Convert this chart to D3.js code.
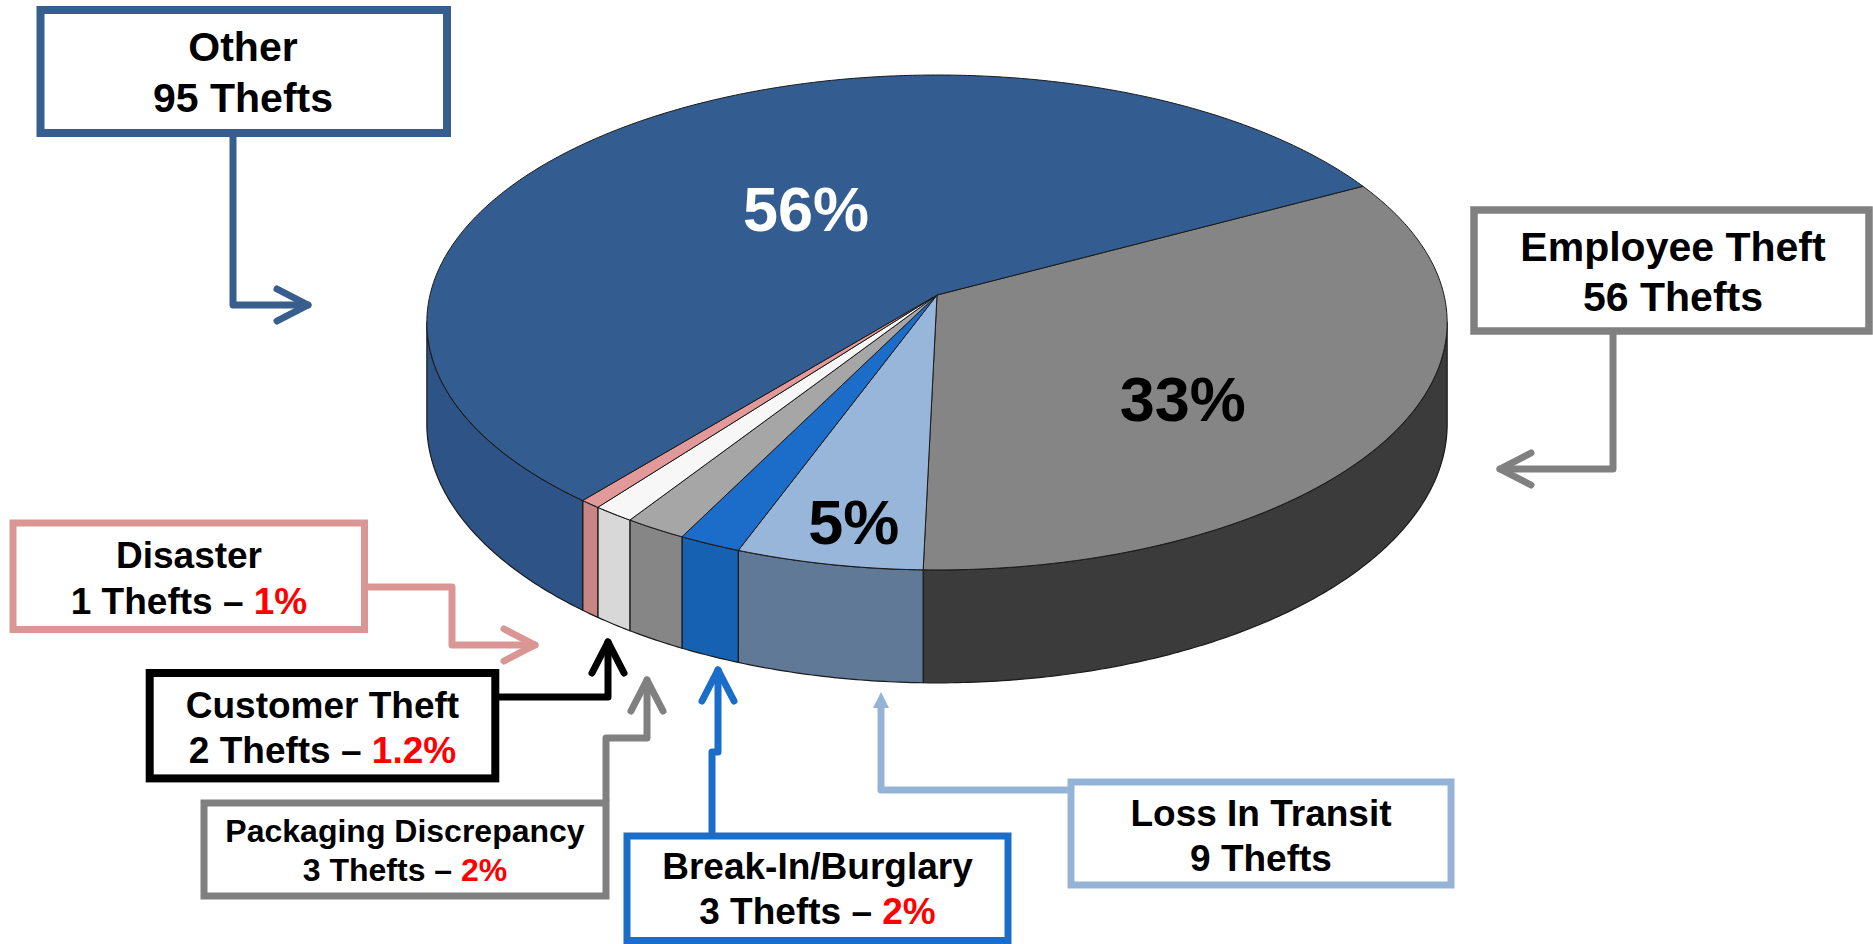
<!DOCTYPE html>
<html>
<head>
<meta charset="utf-8">
<script src="https://cdn.jsdelivr.net/npm/d3@7"></script>
<style>
  html, body { margin: 0; padding: 0; background: #fff; }
  svg { display: block; }
  text { font-family: "Liberation Sans", Arial, sans-serif; font-weight: bold; }
</style>
</head>
<body>
<div id="chart"></div>
<script>
// thefts by category, in the order the slices run round the pie (clockwise)
const categories = ["Employee Theft", "Loss In Transit", "Break-In/Burglary", "Packaging Discrepancy", "Customer Theft", "Disaster", "Other"];
const thefts = [56, 9, 3, 3, 2, 1, 95];
const slicePercents = ["33%", "5%", null, null, null, null, "56%"];
const boxPercents = [null, null, "2%", "2%", "1.2%", "1%", null];
const topColors = ["#858585", "#98b5da", "#1c6dca", "#a6a6a6", "#f7f7f7", "#e19a99", "#335c90"];
const sideColors = ["#3b3b3b", "#5f7997", "#1761b3", "#868686", "#d8d8d8", "#c78584", "#2e5487"];
const lineColors = ["#808080", "#95b3d7", "#1a6dc8", "#808080", "#000000", "#d99694", "#375e8f"];
const labelInk = ["#000", "#000", "#000", "#000", "#000", "#000", "#fff"];

const width = 1873, height = 944;

// 3d pie: tilted disc with a little perspective
const cx = 937, cy = 295, rx = 507, ry = 244.4, persp = 0.111, depth = 100.4;
const startDeg = 62.1;

const x = d3.scaleLinear().domain([-1, 1]).range([cx - rx, cx + rx]);
const y = d3.scaleLinear().domain([-1, 1]).range([cy - ry, cy + ry]);

function proj(a, f, h) {
    const u = f * Math.sin(a), v = -f * Math.cos(a);
    const d = 1 - persp * v;
    return [x(u / d), y(v / d) + h * depth / d];
}

function arcPts(a0, a1, h) {
    const n = Math.max(2, Math.ceil((a1 - a0) / 0.01));
    return d3.range(n + 1).map(i => proj(a0 + (a1 - a0) * i / n, 1, h));
}

const line = d3.line();

const pie = d3.pie()
    .sort(null)
    .value(d => d)
    .startAngle(startDeg * Math.PI / 180)
    .endAngle(startDeg * Math.PI / 180 + 2 * Math.PI);
const arcs = pie(thefts);

const svg = d3.select("#chart").append("svg")
    .attr("width", width)
    .attr("height", height);

// side walls, only the part that faces us
const vis0 = Math.PI / 2 + Math.asin(persp), vis1 = 3 * Math.PI / 2 - Math.asin(persp);
const wallG = svg.append("g");
arcs.forEach((a, i) => {
    [0, -2 * Math.PI].forEach(shift => {
        const a0 = Math.max(a.startAngle + shift, vis0);
        const a1 = Math.min(a.endAngle + shift, vis1);
        if (a1 <= a0) return;
        const pts = arcPts(a0, a1, 0).concat(arcPts(a0, a1, 1).reverse());
        wallG.append("path")
            .attr("d", line(pts) + "Z")
            .attr("fill", sideColors[i])
            .attr("stroke", "#1a1a1a")
            .attr("stroke-width", 1.2)
            .attr("stroke-linejoin", "round");
    });
});

// top faces
const topG = svg.append("g");
arcs.forEach((a, i) => {
    const pts = [proj(0, 0, 0)].concat(arcPts(a.startAngle, a.endAngle, 0));
    topG.append("path")
        .attr("d", line(pts) + "Z")
        .attr("fill", topColors[i])
        .attr("stroke", "#1a1a1a")
        .attr("stroke-width", 1)
        .attr("stroke-linejoin", "round");
});

// percentage labels on the big slices
const labelSpots = {
    "Other": { f: 0.458, turn: 3.1 },
    "Employee Theft": { f: 0.614, turn: 9.3 },
    "Loss In Transit": { f: 0.852, turn: -0.9 }
};
arcs.forEach((a, i) => {
    if (!slicePercents[i]) return;
    const s = labelSpots[categories[i]];
    const mid = (a.startAngle + a.endAngle) / 2 + s.turn * Math.PI / 180;
    const p = proj(mid, s.f, 0);
    svg.append("text")
        .attr("x", p[0])
        .attr("y", p[1])
        .attr("dy", "0.36em")
        .attr("text-anchor", "middle")
        .attr("font-size", 63)
        .attr("fill", labelInk[i])
        .text(slicePercents[i]);
});

// callout boxes with elbow arrows
const callouts = {
    "Other": { box: [40.5, 10, 406.5, 123], sw: 8, fs: 41, tx: 243, base: [61, 112],
        path: [[233, 137], [233, 305], [308, 305]], head: "open" },
    "Employee Theft": { box: [1474, 210, 395, 121], sw: 7.5, fs: 41, tx: 1673, base: [261, 311],
        path: [[1613, 335], [1613, 469], [1500, 469]], head: "open" },
    "Disaster": { box: [13, 523, 351.5, 106.5], sw: 7, fs: 37, tx: 189, base: [568, 614],
        path: [[368, 587], [452, 587], [452, 645], [535, 645]], head: "open" },
    "Customer Theft": { box: [149.7, 673, 345.6, 105.4], sw: 8, fs: 37, tx: 322.5, base: [718, 763],
        path: [[499, 697], [608, 697], [608, 642]], head: "open" },
    "Packaging Discrepancy": { box: [204, 803, 402, 93], sw: 7, fs: 32, tx: 405, base: [842, 881],
        path: [[606, 800], [606, 738], [647, 738], [647, 680]], head: "open" },
    "Break-In/Burglary": { box: [627, 836, 381, 104.5], sw: 7, fs: 37, tx: 817.5, base: [879, 924],
        path: [[712, 832], [712, 752], [718, 752], [718, 670]], head: "open" },
    "Loss In Transit": { box: [1071, 782, 380, 103], sw: 7, fs: 37, tx: 1261, base: [826, 871],
        path: [[1071, 790], [881, 790], [881, 704]], head: "solid" }
};

const calloutG = svg.append("g");
categories.forEach((name, i) => {
    const c = callouts[name];
    const col = lineColors[i];
    const g = calloutG.append("g");

    g.append("path")
        .attr("d", line(c.path))
        .attr("fill", "none")
        .attr("stroke", col)
        .attr("stroke-width", 7)
        .attr("stroke-linejoin", "round")
        .attr("stroke-linecap", name === "Loss In Transit" ? "butt" : "round");

    const tip = c.path[c.path.length - 1], prev = c.path[c.path.length - 2];
    const len = Math.hypot(tip[0] - prev[0], tip[1] - prev[1]);
    const dx = (tip[0] - prev[0]) / len, dy = (tip[1] - prev[1]) / len;
    if (c.head === "open") {
        const back = 31, half = 16;
        const arms = [
            [tip[0] - back * dx + half * dy, tip[1] - back * dy - half * dx],
            tip,
            [tip[0] - back * dx - half * dy, tip[1] - back * dy + half * dx]
        ];
        g.append("path")
            .attr("d", line(arms))
            .attr("fill", "none")
            .attr("stroke", col)
            .attr("stroke-width", 7)
            .attr("stroke-linejoin", "round")
            .attr("stroke-linecap", "round");
    } else {
        const back = 16, half = 8, t = [tip[0] + dx * 12, tip[1] + dy * 12];
        g.append("path")
            .attr("d", line([
                t,
                [t[0] - back * dx + half * dy, t[1] - back * dy - half * dx],
                [t[0] - back * dx - half * dy, t[1] - back * dy + half * dx]
            ]) + "Z")
            .attr("fill", col);
    }

    g.append("rect")
        .attr("x", c.box[0])
        .attr("y", c.box[1])
        .attr("width", c.box[2])
        .attr("height", c.box[3])
        .attr("fill", "#fff")
        .attr("stroke", col)
        .attr("stroke-width", c.sw);

    g.append("text")
        .attr("x", c.tx)
        .attr("y", c.base[0])
        .attr("text-anchor", "middle")
        .attr("font-size", c.fs)
        .attr("fill", "#000")
        .text(name);

    const t2 = g.append("text")
        .attr("x", c.tx)
        .attr("y", c.base[1])
        .attr("text-anchor", "middle")
        .attr("font-size", c.fs)
        .attr("fill", "#000");
    t2.append("tspan").text(thefts[i] + " Thefts" + (boxPercents[i] ? " \u2013 " : ""));
    if (boxPercents[i]) {
        t2.append("tspan").attr("fill", "#ff0000").text(boxPercents[i]);
    }
});
</script>
</body>
</html>
